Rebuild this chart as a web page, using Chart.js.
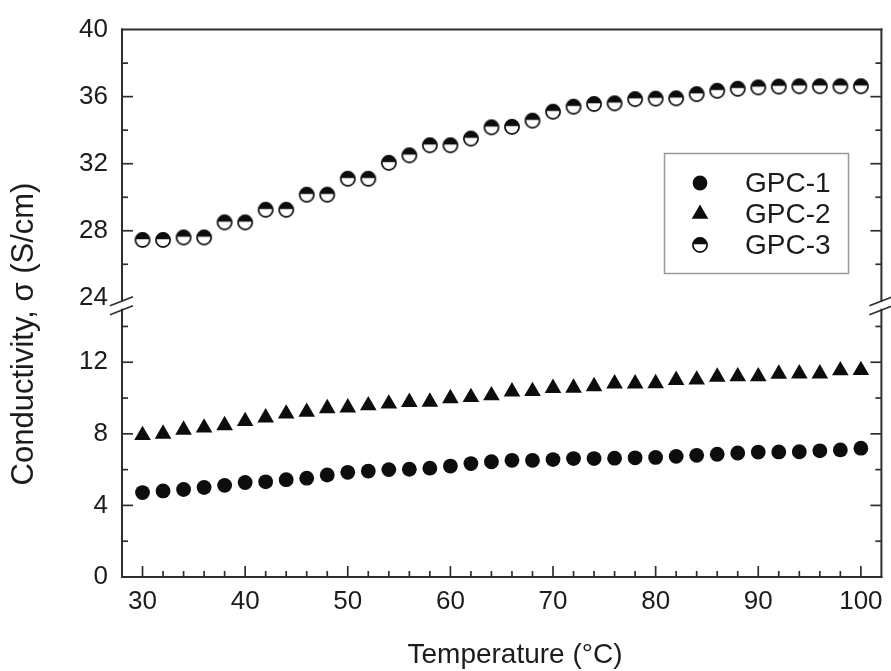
<!DOCTYPE html>
<html>
<head>
<meta charset="utf-8">
<script src="https://cdn.jsdelivr.net/npm/chart.js@4.4.1/dist/chart.umd.min.js"></script>
<style>
  html, body { margin: 0; padding: 0; background: #fff; }
</style>
</head>
<body>
<canvas id="chart" width="891" height="671"></canvas>
<script>
// temperature in degC
const temperature = [30, 32, 34, 36, 38, 40, 42, 44, 46, 48, 50, 52, 54, 56, 58, 60, 62, 64,
                     66, 68, 70, 72, 74, 76, 78, 80, 82, 84, 86, 88, 90, 92, 94, 96, 98, 100];
// conductivity in S/cm
const gpc1 = [4.72, 4.81, 4.89, 5.0, 5.12, 5.28, 5.32, 5.44, 5.52, 5.7, 5.85, 5.92, 6.0, 6.02, 6.08, 6.2, 6.34, 6.44,
              6.52, 6.52, 6.56, 6.62, 6.62, 6.64, 6.66, 6.68, 6.74, 6.8, 6.86, 6.93, 6.98, 6.99, 7.0, 7.05, 7.1, 7.2];
const gpc2 = [7.92, 8.0, 8.22, 8.34, 8.47, 8.7, 8.9, 9.12, 9.22, 9.42, 9.46, 9.58, 9.68, 9.77, 9.78, 9.98, 10.04, 10.14,
              10.36, 10.38, 10.55, 10.57, 10.65, 10.8, 10.8, 10.82, 11.0, 11.02, 11.18, 11.2, 11.2, 11.35, 11.36, 11.36, 11.54, 11.55];
const gpc3 = [27.45, 27.45, 27.6, 27.6, 28.5, 28.5, 29.25, 29.25, 30.15, 30.15, 31.1, 31.1, 32.05, 32.5, 33.1, 33.1, 33.5, 34.17,
              34.2, 34.57, 35.1, 35.4, 35.56, 35.6, 35.85, 35.88, 35.9, 36.15, 36.35, 36.47, 36.55, 36.6, 36.62, 36.62, 36.62, 36.62];

const seriesLabels = ['GPC-1', 'GPC-2', 'GPC-3'];
const xTickLabels = [30, 40, 50, 60, 70, 80, 90, 100];
const lowerTickLabels = [0, 4, 8, 12];
const upperTickLabels = [24, 28, 32, 36, 40];

const FONT = "'Liberation Sans', Arial, Helvetica, sans-serif";
const INK = '#0d0d0d';
const AXIS = '#2e2e2e';
const TEXT = '#1c1c1c';

Chart.defaults.font.family = FONT;
Chart.defaults.color = TEXT;

// half filled circle marker for GPC-3
function halfDot(r) {
  const size = Math.ceil(r * 2 + 4);
  const c = document.createElement('canvas');
  c.width = size;
  c.height = size;
  const g = c.getContext('2d');
  const m = size / 2;
  g.fillStyle = '#fff';
  g.beginPath();
  g.arc(m, m, r, 0, Math.PI * 2);
  g.fill();
  g.save();
  g.beginPath();
  g.rect(0, 0, size, m - 0.8);
  g.clip();
  g.fillStyle = INK;
  g.beginPath();
  g.arc(m, m, r, 0, Math.PI * 2);
  g.fill();
  g.restore();
  g.strokeStyle = INK;
  g.lineWidth = 1.7;
  g.beginPath();
  g.arc(m, m, r - 0.5, 0, Math.PI * 2);
  g.stroke();
  return c;
}

const toPoints = ys => temperature.map((t, i) => ({ x: t, y: ys[i] }));

// frame, inward ticks, axis break, axis titles and legend
const framePlugin = {
  id: 'frame',
  afterDraw(chart) {
    const ctx = chart.ctx;
    const { left, right, top, bottom } = chart.chartArea;
    const xs = chart.scales.x;
    const lo = chart.scales.yLow;
    const hi = chart.scales.yHigh;
    const breakY = hi.bottom;
    const gapA = breakY + 3, gapB = breakY + 12;

    ctx.save();
    ctx.strokeStyle = AXIS;
    ctx.lineWidth = 2;
    ctx.lineCap = 'square';
    const line = (x1, y1, x2, y2) => {
      ctx.beginPath();
      ctx.moveTo(x1, y1);
      ctx.lineTo(x2, y2);
      ctx.stroke();
    };
    line(left, top, right, top);
    line(left, bottom, right, bottom);
    for (const x of [left, right]) {
      line(x, top, x, gapA);
      line(x, gapB, x, bottom);
    }
    ctx.lineCap = 'butt';
    ctx.lineWidth = 1.7;
    for (const x of [left, right]) {
      line(x - 12, breakY + 8, x + 11, breakY - 1);
      line(x - 12, breakY + 17, x + 11, breakY + 8);
    }

    // inward ticks
    ctx.lineWidth = 1.7;
    xs.ticks.forEach(t => {
      if (t.value <= xs.min || t.value >= xs.max) return;
      const px = xs.getPixelForValue(t.value);
      const len = xTickLabels.includes(t.value) ? 11 : 6;
      line(px, bottom, px, bottom - len);
    });
    const yTicks = (scale, labels) => {
      scale.ticks.forEach(t => {
        if (t.value <= scale.min || t.value >= scale.max) return;
        const py = scale.getPixelForValue(t.value);
        const len = labels.includes(t.value) ? 11 : 6;
        line(left, py, left + len, py);
        line(right, py, right - len, py);
      });
    };
    yTicks(lo, lowerTickLabels);
    yTicks(hi, upperTickLabels);

    // axis titles
    ctx.fillStyle = TEXT;
    ctx.textAlign = 'center';
    ctx.textBaseline = 'middle';
    ctx.font = '28px ' + FONT;
    ctx.fillText('Temperature (°C)', 515, 655);
    ctx.font = '31px ' + FONT;
    ctx.translate(24, 334);
    ctx.rotate(-Math.PI / 2);
    ctx.fillText('Conductivity, σ (S/cm)', 0, 0);
    ctx.restore();

    // legend
    ctx.save();
    ctx.strokeStyle = '#999';
    ctx.lineWidth = 1.5;
    ctx.strokeRect(664.5, 153.5, 184, 120);
    ctx.font = '28px ' + FONT;
    ctx.textAlign = 'left';
    ctx.textBaseline = 'middle';
    chart.data.datasets.forEach((ds, i) => {
      const y = 183 + i * 31;
      ctx.fillStyle = INK;
      ctx.strokeStyle = INK;
      Chart.helpers.drawPoint(ctx, {
        pointStyle: ds.pointStyle,
        radius: ds.pointRadius,
        rotation: 0,
        borderWidth: 0
      }, 700, y);
      ctx.fillStyle = TEXT;
      ctx.fillText(ds.label, 745, y + 1);
    });
    ctx.restore();
  }
};

new Chart(document.getElementById('chart'), {
  type: 'scatter',
  data: {
    datasets: [
      {
        label: seriesLabels[0],
        data: toPoints(gpc1),
        yAxisID: 'yLow',
        pointStyle: 'circle',
        pointRadius: 7.4,
        backgroundColor: INK,
        borderColor: INK,
        borderWidth: 0
      },
      {
        label: seriesLabels[1],
        data: toPoints(gpc2),
        yAxisID: 'yLow',
        pointStyle: 'triangle',
        pointRadius: 9.6,
        backgroundColor: INK,
        borderColor: INK,
        borderWidth: 0
      },
      {
        label: seriesLabels[2],
        data: toPoints(gpc3),
        yAxisID: 'yHigh',
        pointStyle: halfDot(7.6),
        pointRadius: 7.6,
        backgroundColor: INK,
        borderColor: INK,
        borderWidth: 0
      }
    ]
  },
  options: {
    responsive: false,
    animation: false,
    events: [],
    layout: { padding: { top: 28, right: 6, left: 0, bottom: 0 } },
    plugins: {
      legend: { display: false },
      tooltip: { enabled: false }
    },
    scales: {
      x: {
        type: 'linear',
        min: 28,
        max: 102,
        afterFit: s => { s.height = 94; },
        grid: { display: false, drawTicks: false },
        border: { display: false },
        ticks: {
          stepSize: 2,
          autoSkip: false,
          maxRotation: 0,
          includeBounds: false,
          padding: 9,
          color: TEXT,
          font: { size: 26 },
          callback: v => xTickLabels.includes(v) ? String(v) : ''
        }
      },
      yLow: {
        type: 'linear',
        position: 'left',
        stack: 'y',
        stackWeight: 280,
        min: 0,
        max: 15.6,
        afterFit: s => { s.width = 122; },
        grid: { display: false, drawTicks: false },
        border: { display: false },
        ticks: {
          stepSize: 2,
          autoSkip: false,
          includeBounds: false,
          padding: 14,
          color: TEXT,
          font: { size: 26 },
          callback: v => lowerTickLabels.includes(v) ? String(v) : ''
        }
      },
      yHigh: {
        type: 'linear',
        position: 'left',
        stack: 'y',
        stackWeight: 269,
        min: 24,
        max: 40,
        afterFit: s => { s.width = 122; },
        grid: { display: false, drawTicks: false },
        border: { display: false },
        ticks: {
          stepSize: 2,
          autoSkip: false,
          includeBounds: false,
          padding: 14,
          color: TEXT,
          font: { size: 26 },
          callback: v => upperTickLabels.includes(v) ? String(v) : ''
        }
      }
    }
  },
  plugins: [framePlugin]
});
</script>
</body>
</html>
